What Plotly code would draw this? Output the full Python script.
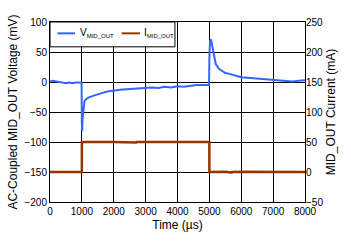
import plotly.graph_objects as go

# Voltage (mV) vs time (us)
t_v = [0, 100, 200, 300, 400, 500, 600, 700, 800, 900, 990, 1000, 1010, 1020, 1040, 1060,
       1080, 1100, 1150, 1200, 1300, 1400, 1500, 1600, 1800, 2000, 2200, 2400, 2600, 2800,
       3000, 3200, 3400, 3600, 3800, 4000, 4200, 4400, 4600, 4800, 4990, 5000, 5020, 5050,
       5100, 5150, 5200, 5300, 5400, 5500, 5600, 5800, 6000, 6200, 6400, 6600, 6800, 7000,
       7200, 7400, 7600, 7800, 8000]
v_mv = [1, 2, 1, 0, -1, -2, -1, -2, -1, -1, -1, -70, -82, -62, -47, -38, -33, -30, -28,
        -26, -24, -22, -20, -19, -16, -14, -13, -12, -11, -11, -10, -9, -10, -8, -9, -7,
        -8, -6, -5, -5, -5, 40, 68, 71, 58, 42, 30, 22, 18, 15, 14, 11, 8, 7, 6, 5, 4, 3,
        3, 2, 1, 2, 3]

# Current (mA) vs time (us)
t_i = [0, 500, 999, 1000, 1500, 2000, 2700, 2710, 3000, 4000, 4999, 5000, 5500, 5700,
       5710, 6000, 7000, 8000]
i_ma = [0, 0.5, 0, 50, 50.5, 50, 49, 50, 50, 50.5, 50, 0, 0.5, -1, 0, 0.5, 0, 0]

series_names = ["V<sub><span style='font-size:6px'>MID_OUT</span></sub>",
                "I<sub><span style='font-size:6px'>MID_OUT</span></sub>"]
blue = "#3366FF"
brown = "#993300"

fig = go.Figure()
fig.add_trace(go.Scatter(x=t_v, y=v_mv, mode="lines", name="V MID_OUT",
                         line=dict(color=blue, width=2), showlegend=False))
fig.add_trace(go.Scatter(x=t_i, y=i_ma, mode="lines", name="I MID_OUT",
                         line=dict(color=brown, width=2.5), yaxis="y2", showlegend=False))

fam = "Liberation Sans, Arial, sans-serif"
font = dict(family=fam, size=10, color="black")

# Legend drawn as a box with samples (paper coordinates)
shapes = [
    dict(type="rect", xref="paper", yref="paper", x0=0, x1=0.49, y0=0.862, y1=1,
         line=dict(color="black", width=1), fillcolor="white", layer="above"),
    dict(type="line", xref="paper", yref="paper", x0=0.029, x1=0.098, y0=0.937, y1=0.937,
         line=dict(color=blue, width=2), layer="above"),
    dict(type="line", xref="paper", yref="paper", x0=0.281, x1=0.353, y0=0.937, y1=0.937,
         line=dict(color=brown, width=2), layer="above"),
]
annotations = [
    dict(text=series_names[0], xref="paper", yref="paper", x=0.109, y=0.937,
         xanchor="left", yanchor="middle", showarrow=False, font=dict(family=fam, size=10)),
    dict(text=series_names[1], xref="paper", yref="paper", x=0.362, y=0.937,
         xanchor="left", yanchor="middle", showarrow=False, font=dict(family=fam, size=10)),
]

fig.update_layout(
    width=351, height=243,
    margin=dict(l=50, r=46, t=22, b=41),
    paper_bgcolor="white", plot_bgcolor="white",
    font=font,
    showlegend=False,
    shapes=shapes,
    annotations=annotations,
    xaxis=dict(range=[0, 8000], dtick=1000, tick0=0, showgrid=True, gridcolor="black",
               gridwidth=1, showline=True, linecolor="black", linewidth=1, mirror=True,
               ticks="", zeroline=False,
               title=dict(text="Time (µs)", standoff=4)),
    yaxis=dict(range=[-200, 100], dtick=50, tick0=0, showgrid=True, gridcolor="black",
               gridwidth=1, showline=True, linecolor="black", linewidth=1, mirror=True,
               ticks="", zeroline=False,
               title=dict(text="AC-Coupled MID_OUT Voltage (mV)", standoff=4)),
    yaxis2=dict(range=[-50, 250], dtick=50, tick0=0, overlaying="y", side="right",
                showgrid=False, zeroline=False, ticks="",
                title=dict(text="MID_OUT Current (mA)", standoff=4)),
)

fig.write_html("out.html")
